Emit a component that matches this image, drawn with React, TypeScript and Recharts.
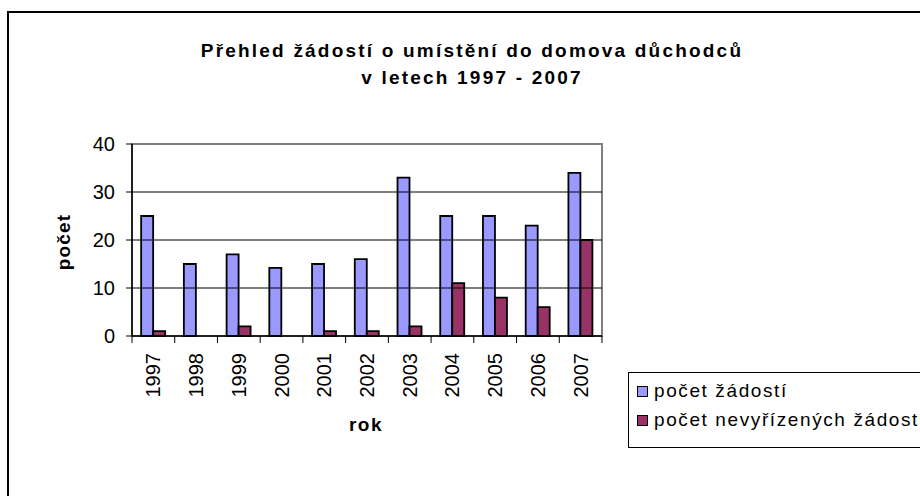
import React from 'react';
import { BarChart, Bar, XAxis, YAxis, ReferenceLine, ReferenceArea, Legend, Label } from 'recharts';

const years = ['1997', '1998', '1999', '2000', '2001', '2002', '2003', '2004', '2005', '2006', '2007'];
const pocetZadosti = [25, 15, 17, 14.2, 15, 16, 33, 25, 25, 23, 34];
const pocetNevyrizenych = [1, 0, 2, 0, 1, 1, 2, 11, 8, 6, 20];
const yTicks = [0, 10, 20, 30, 40];
const gridValues = [10, 20, 30];
const seriesNames = ['počet žádostí', 'počet nevyřízených žádostí'];
const seriesColors = ['#9999FF', '#993366'];
const titleLines = ['Přehled žádostí o umístění do domova důchodců', 'v letech 1997 - 2007'];

const data = years.map((y, i) => ({ rok: y, a: pocetZadosti[i], b: pocetNevyrizenych[i] }));

const FONT = '"Liberation Sans", Arial, sans-serif';
const PLOT_LEFT = 132;
const PLOT_RIGHT = 602;
const BAND = (PLOT_RIGHT - PLOT_LEFT) / years.length;

const XTick = (props: any) => {
  const { x, y, payload, index } = props;
  const left = x - BAND / 2;
  const tx = x + 7;
  const ty = y + 9;
  return (
    <g>
      <line x1={left} y1={y - 8} x2={left} y2={y - 1} stroke="#000" strokeWidth={1} />
      {index === years.length - 1 && (
        <line x1={x + BAND / 2} y1={y - 8} x2={x + BAND / 2} y2={y - 1} stroke="#000" strokeWidth={1} />
      )}
      <text
        x={tx}
        y={ty}
        transform={`rotate(-90 ${tx} ${ty})`}
        textAnchor="end"
        fontSize={20}
        fontFamily={FONT}
        fill="#000"
      >
        {payload.value}
      </text>
    </g>
  );
};

const LegendBox = () => (
  <div
    style={{
      border: '1px solid #000',
      width: 320,
      height: 76,
      boxSizing: 'border-box',
      background: '#fff',
      fontFamily: FONT,
      fontSize: 19,
      color: '#000',
      position: 'relative',
    }}
  >
    {seriesNames.map((n, i) => (
      <div key={n} style={{ position: 'absolute', left: 8, top: 7 + i * 29, display: 'flex', alignItems: 'center', whiteSpace: 'nowrap', letterSpacing: 1.6 }}>
        <span style={{ display: 'inline-block', width: 9, height: 9, background: seriesColors[i], border: '1px solid #000', marginRight: 6 }} />
        <span>{n}</span>
      </div>
    ))}
  </div>
);

export default function App() {
  return (
    <div style={{ position: 'fixed', left: 0, top: 0, width: 920, height: 496, overflow: 'hidden', background: '#fff' }}>
      <div style={{ position: 'absolute', left: 7, top: 11, width: 1000, height: 600, border: '2px solid #000', boxSizing: 'border-box' }} />
      <svg width={920} height={120} style={{ position: 'absolute', left: 0, top: 0 }}>
        {titleLines.map((t, i) => (
          <text
            key={t}
            x={472}
            y={57 + i * 27}
            textAnchor="middle"
            fontFamily={FONT}
            fontWeight="bold"
            fontSize={19}
            letterSpacing={2.2}
            fill="#000"
          >
            {t}
          </text>
        ))}
      </svg>
      <div style={{ position: 'absolute', left: 0, top: 0 }}>
        <BarChart
          width={920}
          height={496}
          data={data}
          margin={{ top: 144, right: 920 - PLOT_RIGHT, bottom: 24, left: 0 }}
          barCategoryGap="21.4%"
          barGap={0}
        >
          <ReferenceArea y1={0} y2={40} stroke="#808080" strokeWidth={2} fill="none" fillOpacity={0} ifOverflow="visible" />
          {gridValues.map((v) => (
            <ReferenceLine key={v} y={v} stroke="#000" strokeWidth={1} />
          ))}
          <XAxis
            dataKey="rok"
            height={60}
            axisLine={{ stroke: '#000', strokeWidth: 1.5 }}
            tickLine={false}
            tick={<XTick />}
            interval={0}
          >
            <Label
              content={() => (
                <text x={366} y={431} textAnchor="middle" fontFamily={FONT} fontWeight="bold" fontSize={19} letterSpacing={1.5}>
                  rok
                </text>
              )}
            />
          </XAxis>
          <YAxis
            width={PLOT_LEFT}
            domain={[0, 40]}
            ticks={yTicks}
            interval={0}
            axisLine={{ stroke: '#000', strokeWidth: 1.5 }}
            tickLine={{ stroke: '#000' }}
            tickSize={6}
            tickMargin={11}
            tick={{ fill: '#000', fontSize: 20, fontFamily: FONT }}
          >
            <Label
              content={() => (
                <text
                  x={70}
                  y={242}
                  transform="rotate(-90 70 242)"
                  textAnchor="middle"
                  fontFamily={FONT}
                  fontWeight="bold"
                  fontSize={19}
                  letterSpacing={1.2}
                >
                  počet
                </text>
              )}
            />
          </YAxis>
          <Bar dataKey="a" name={seriesNames[0]} fill={seriesColors[0]} stroke="#000" strokeWidth={1.8} isAnimationActive={false} />
          <Bar dataKey="b" name={seriesNames[1]} fill={seriesColors[1]} stroke="#000" strokeWidth={1.8} isAnimationActive={false} />
          <Legend content={<LegendBox />} wrapperStyle={{ position: 'absolute', left: 628, top: 372, width: 320 }} />
        </BarChart>
      </div>
    </div>
  );
}
